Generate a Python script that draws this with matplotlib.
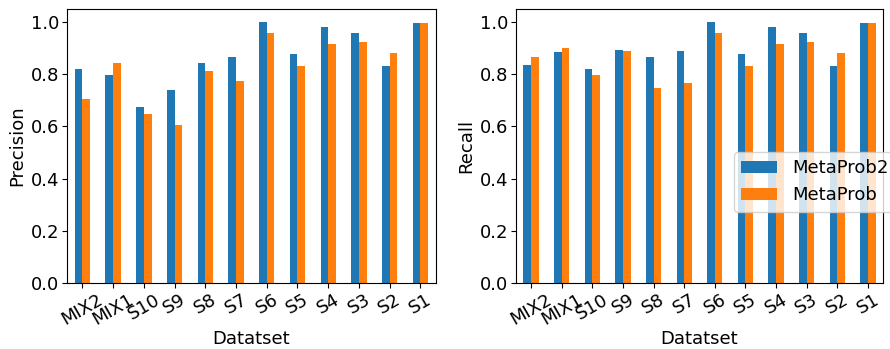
import numpy as np
import matplotlib
matplotlib.use("Agg")
import matplotlib.pyplot as plt

datasets = ["MIX2", "MIX1", "S10", "S9", "S8", "S7", "S6", "S5", "S4", "S3", "S2", "S1"]

# precision
prec_mp2 = [0.819, 0.796, 0.673, 0.738, 0.842, 0.865, 0.999, 0.876, 0.983, 0.960, 0.830, 0.995]
prec_mp = [0.704, 0.845, 0.646, 0.604, 0.811, 0.776, 0.957, 0.830, 0.918, 0.922, 0.880, 0.995]

# recall
rec_mp2 = [0.834, 0.884, 0.819, 0.895, 0.865, 0.888, 0.999, 0.876, 0.983, 0.960, 0.830, 0.995]
rec_mp = [0.865, 0.899, 0.799, 0.888, 0.746, 0.765, 0.957, 0.830, 0.918, 0.922, 0.880, 0.995]

fs = 13
fig = plt.figure(figsize=(8.9, 3.49), dpi=100)
ax1 = fig.add_axes([0.0753, 0.189, 0.4143, 0.785])
ax2 = fig.add_axes([0.5794, 0.189, 0.4131, 0.785])

x = np.arange(len(datasets))
w = 0.25
for ax, a, b, lab in [(ax1, prec_mp2, prec_mp, "Precision"), (ax2, rec_mp2, rec_mp, "Recall")]:
    ax.bar(x - w / 2, a, w, color="#1f77b4", label="MetaProb2")
    ax.bar(x + w / 2, b, w, color="#ff7f0e", label="MetaProb")
    ax.set_xlim(-0.5, len(datasets) - 0.5)
    ax.set_ylim(0, 1.05)
    ax.set_xticks(x)
    ax.set_xticklabels(datasets, rotation=30, fontsize=fs)
    ax.tick_params(axis="x", pad=2)
    ax.tick_params(axis="y", labelsize=fs, pad=2)
    ax.set_xlabel("Datatset", fontsize=fs, labelpad=1)
    ax.set_ylabel(lab, fontsize=fs, labelpad=3)

ax2.legend(loc="upper left", bbox_to_anchor=(0.594, 0.478), borderaxespad=0, fontsize=fs)

fig.savefig("out.png", dpi=100)
